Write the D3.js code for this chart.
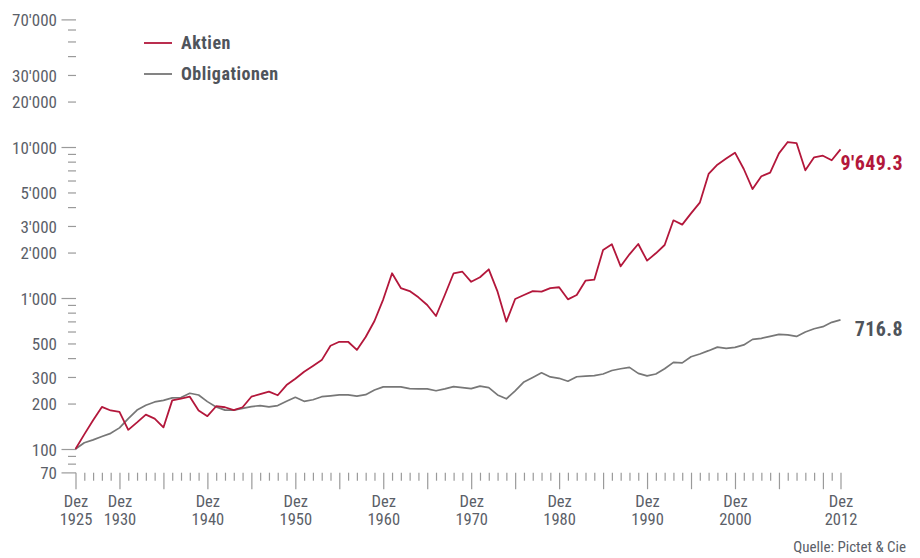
<!DOCTYPE html>
<html>
<head>
<meta charset="utf-8">
<script src="https://cdn.jsdelivr.net/npm/d3@7"></script>
<style>
  html, body { margin: 0; padding: 0; background: #fff; }
  svg { display: block; }
  .cond { font-family: "Liberation Sans Narrow", "Roboto Condensed", "DejaVu Sans Condensed", "Arial Narrow", sans-serif; }
</style>
</head>
<body>
<svg id="chart" width="920" height="558"></svg>
<script>
// ---------- data ----------
const years = d3.range(1925, 2013);
const aktien = [
  100, 125, 155, 190, 180, 176, 134, 150, 169, 159,          // 1925-1934
  139, 210, 216, 222, 180, 165, 192, 189, 181, 189,          // 1935-1944
  222, 231, 240, 227, 265, 292, 325, 355, 388, 483,          // 1945-1954
  513, 513, 453, 552, 704, 980, 1458, 1164, 1111, 1010,      // 1955-1964
  899, 760, 1047, 1458, 1493, 1280, 1372, 1549, 1101, 697,   // 1965-1974
  985, 1047, 1111, 1101, 1164, 1178, 980, 1047, 1302, 1322,  // 1975-1984
  2080, 2268, 1622, 1947, 2279, 1767, 1977, 2245, 3270, 3060,// 1985-1994
  3636, 4280, 6630, 7640, 8380, 9170, 7150, 5270, 6400, 6760,// 1995-2004
  9080, 10790, 10620, 7010, 8550, 8760, 8170, 9649.3         // 2005-2012
];
const obligationen = [
  100, 110, 115, 121, 127, 138, 159, 181, 195, 205,          // 1925-1934
  210, 218, 219, 234, 228, 206, 190, 181, 181, 186,          // 1935-1944
  191, 194, 190, 194, 207, 220, 207, 212, 222, 225,          // 1945-1954
  228, 228, 224, 229, 246, 258, 258, 258, 251, 250,          // 1955-1964
  250, 243, 250, 259, 255, 251, 261, 255, 228, 215,          // 1965-1974
  243, 278, 298, 320, 300, 294, 281, 301, 304, 306,          // 1975-1984
  314, 331, 340, 347, 317, 305, 314, 340, 375, 372,          // 1985-1994
  408, 426, 448, 473, 464, 471, 489, 532, 541, 557,          // 1995-2004
  575, 570, 557, 596, 626, 646, 690, 716.8                   // 2005-2012
];
const seriesNames = ["Aktien", "Obligationen"];
const seriesColors = ["#b3173b", "#777777"];
const yTickValues = [70, 80, 90, 100, 200, 300, 400, 500, 600, 700, 800, 900,
  1000, 2000, 3000, 4000, 5000, 6000, 7000, 8000, 9000, 10000, 20000, 30000,
  40000, 50000, 60000, 70000];
const yLabelValues = [70, 100, 200, 300, 500, 1000, 2000, 3000, 5000, 10000, 20000, 30000, 70000];
const yMajorValues = [70, 100, 1000, 10000, 70000];
const xLabelYears = [1925, 1930, 1940, 1950, 1960, 1970, 1980, 1990, 2000, 2012];
const xMajorYears = [1925, 1930, 1935, 1940, 1945, 1950, 1955, 1960, 1965, 1970, 1975,
  1980, 1985, 1990, 1995, 2000, 2005, 2010, 2012];
const monthLabel = "Dez";
const sourceText = "Quelle: Pictet & Cie";

// ---------- setup ----------
const loc = d3.formatLocale({ decimal: ".", thousands: "'", grouping: [3], currency: ["", ""] });
const fmtInt = loc.format(",.0f");
const fmtDec = loc.format(",.1f");

const svg = d3.select("#chart");
const x = d3.scaleLinear().domain([1925, 2012]).range([75.5, 840.5]);
const y = d3.scaleLog().domain([70, 70000]).range([472.4, 19.4]);

const tickColor = "#9a9a9a";
const textColor = "#5b6068";

// ---------- y axis ----------
const yAxis = d3.axisLeft(y)
  .tickValues(yTickValues)
  .tickSizeOuter(0)
  .tickSize(0)
  .tickFormat(d => yLabelValues.includes(d) ? fmtInt(d) : "");
const gy = svg.append("g").attr("class", "cond").attr("transform", "translate(76,0)").call(yAxis);
gy.select(".domain").remove();
gy.selectAll(".tick line").remove();
gy.selectAll(".tick").append("line")
  .attr("x1", d => yMajorValues.includes(d) ? -14.5 : -8)
  .attr("x2", 0)
  .attr("stroke", tickColor)
  .attr("stroke-width", 1.2);
gy.selectAll(".tick text")
  .attr("x", -19)
  .attr("dy", "0.36em")
  .attr("fill", textColor)
  .style("font-size", "17px")
  .style("font-family", null);

// ---------- x axis ----------
const xAxis = d3.axisBottom(x)
  .tickValues(years)
  .tickSize(0)
  .tickFormat("");
const gx = svg.append("g").attr("class", "cond").attr("transform", "translate(0,472.7)").call(xAxis);
gx.select(".domain").remove();
gx.selectAll(".tick line").remove();
gx.selectAll(".tick text").remove();
gx.selectAll(".tick").append("line")
  .attr("y1", 0)
  .attr("y2", d => xMajorYears.includes(d) ? 16.5 : 8)
  .attr("stroke", tickColor)
  .attr("stroke-width", 1.2);
const labelled = gx.selectAll(".tick").filter(d => xLabelYears.includes(d));
labelled.append("text")
  .attr("text-anchor", "middle")
  .attr("fill", textColor)
  .attr("x", 0).attr("y", 34.8)
  .style("font-size", "16.5px")
  .text(monthLabel);
labelled.append("text")
  .attr("text-anchor", "middle")
  .attr("fill", textColor)
  .attr("x", 0).attr("y", 52.6)
  .style("font-size", "16.5px")
  .text(d => d);

// ---------- lines ----------
const allSeries = [aktien, obligationen];
const line = d3.line().x((d, i) => x(years[i])).y(d => y(d));
// draw obligationen first, aktien on top
[1, 0].forEach(k => {
  svg.append("path")
    .datum(allSeries[k])
    .attr("fill", "none")
    .attr("stroke", seriesColors[k])
    .attr("stroke-width", k === 0 ? 1.8 : 1.7)
    .attr("stroke-linejoin", "round")
    .attr("d", line);
});

// ---------- end labels ----------
const endVals = [aktien[aktien.length - 1], obligationen[obligationen.length - 1]];
const endColors = ["#b3173b", "#4f545b"];
endVals.forEach((v, k) => {
  svg.append("text")
    .attr("class", "cond")
    .attr("x", 903)
    .attr("y", y(v) + (k === 0 ? 13.2 : 8.7))
    .attr("dy", "0.36em")
    .attr("text-anchor", "end")
    .attr("fill", endColors[k])
    .style("font-size", "20px")
    .style("font-weight", "bold")
    .style("letter-spacing", "0.4px")
    .text(fmtDec(v));
});

// ---------- legend ----------
const legend = svg.append("g").attr("class", "cond");
seriesNames.forEach((name, k) => {
  const ly = 43 + k * 31;
  legend.append("line")
    .attr("x1", 144).attr("x2", 172)
    .attr("y1", ly).attr("y2", ly)
    .attr("stroke", seriesColors[k])
    .attr("stroke-width", 1.8);
  legend.append("text")
    .attr("x", 181).attr("y", ly)
    .attr("dy", "0.36em")
    .attr("fill", "#4f545b")
    .style("font-size", "18px")
    .style("font-weight", "bold")
    .style("letter-spacing", "0.5px")
    .text(name);
});

// ---------- source ----------
svg.append("text")
  .attr("class", "cond")
  .attr("x", 906).attr("y", 552)
  .attr("text-anchor", "end")
  .attr("fill", textColor)
  .style("font-size", "15px")
  .text(sourceText);
</script>
</body>
</html>
